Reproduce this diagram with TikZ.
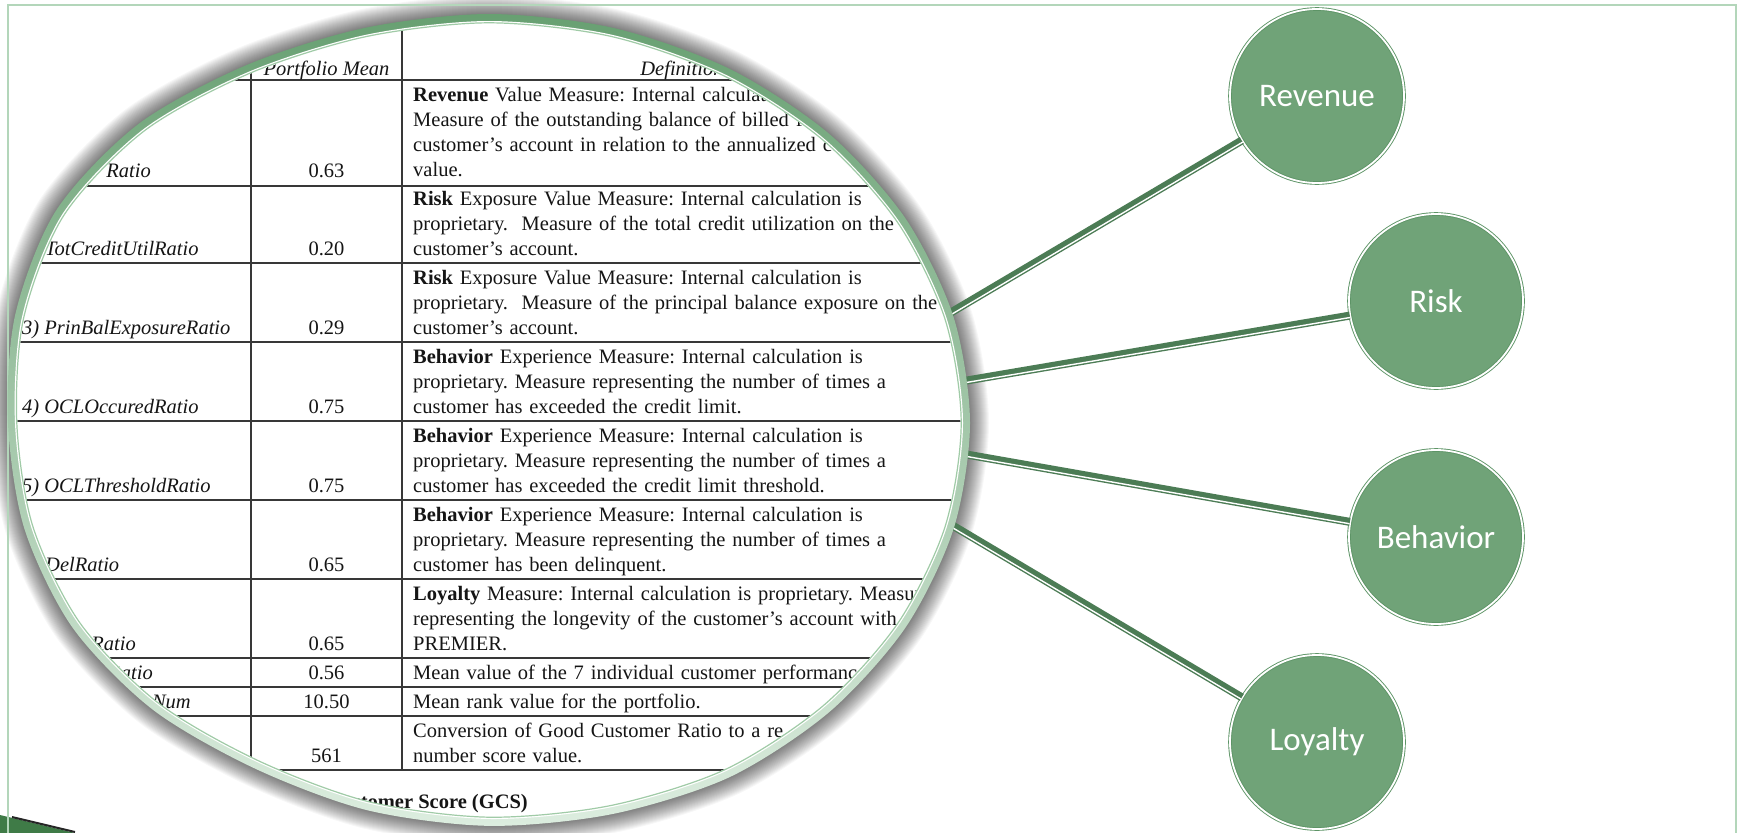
\documentclass[tikz,border=0pt]{standalone}
\usepackage{fontspec}
\setmainfont{Liberation Serif}
\newfontfamily\circfont{Carlito}
\usetikzlibrary{calc}
\definecolor{framegreen}{HTML}{B3D6BA}
\definecolor{circgreen}{HTML}{70A378}
\definecolor{circedge}{HTML}{5D9466}
\definecolor{conngreen}{HTML}{4C7C55}
\definecolor{ringtop}{HTML}{68A072}
\definecolor{ringbot}{HTML}{DCEDDF}
\definecolor{ringline}{HTML}{A0CBA7}
\definecolor{decogreen}{HTML}{3F7B47}
\definecolor{gridgray}{HTML}{383838}
\definecolor{inkblack}{HTML}{151515}
\newcommand\lenscurve{plot[smooth cycle] coordinates {
 (1,0) (0.9659,-0.2588) (0.8660,-0.5) (0.7071,-0.7071) (0.5,-0.8660) (0.2588,-0.9659)
 (0,-1) (-0.2588,-0.9659) (-0.505,-0.8747) (-0.7300,-0.7300) (-0.9000,-0.5196) (-0.9852,-0.2640)
 (-1,0) (-0.9659,0.2588) (-0.8660,0.5) (-0.7000,0.7000) (-0.4875,0.8444) (-0.2536,0.9466)
 (0,0.985) (0.2562,0.9562) (0.5,0.8660) (0.7071,0.7071) (0.8660,0.5) (0.9659,0.2588)}}
\tikzset{
  lens/.style 2 args={shift={(489,423)}, xscale=#1, yscale=#2},
  topic/.style={circle, fill=circgreen, draw=circedge, double=white, double distance=1.8pt,
    line width=0.9pt, minimum size=174pt, inner sep=0pt, text=white,
    font=\circfont\fontsize{33}{39}\selectfont},
  conn/.style={draw=conngreen, line width=8pt},
  connwhite/.style={draw=white, line width=1.4pt},
  tabline/.style={draw=gridgray, line width=1.3pt},
  cell/.style={anchor=north west, inner sep=0pt, align=left, text width=700pt,
    font=\fontsize{20.5}{25}\selectfont, text=inkblack},
  num/.style={anchor=base, inner sep=0pt, font=\fontsize{20.5}{25}\selectfont, text=inkblack},
  labw/.style={anchor=base west, inner sep=0pt, font=\fontsize{20.5}{25}\selectfont\itshape, text=inkblack},
  labe/.style={anchor=base east, inner sep=0pt, font=\fontsize{20.5}{25}\selectfont\itshape, text=inkblack},
  hdr/.style={anchor=base, inner sep=0pt, font=\fontsize{20.5}{25}\selectfont\itshape, text=inkblack},
}
\begin{document}
\frenchspacing
\begin{tikzpicture}[x=1pt,y=-1pt]
\useasboundingbox (0,0) rectangle (1741,833);
\fill[white] (0,0) rectangle (1741,833);

% bottom-left decoration
\fill[decogreen] (0,815) -- (75,833) -- (0,833) -- cycle;
\draw[black!85, line width=2pt] (12,817) -- (75,832);

% lens shadow
\foreach \d in {1,...,20} {
  \fill[black, opacity=0.032, lens={480+\d}{408+\d}] \lenscurve;
}

% frame
\draw[framegreen, line width=2.2pt] (8,833) -- (8,5) -- (1736,5) -- (1736,833);

% topic circles
\node[topic] (rev)  at (1317,96)  {Revenue};
\node[topic] (risk) at (1436,301) {Risk};
\node[topic] (beh)  at (1436,537) {Behavior};
\node[topic] (loy)  at (1317,742) {Loyalty};

% connector start points on the lens rim
\coordinate (lrev)  at (945,316);
\coordinate (lrisk) at (958,382);
\coordinate (lbeh)  at (958,453);
\coordinate (lloy)  at (945,521);

\draw[conn] (lrev) -- (rev);
\draw[conn] (lrisk) -- (risk);
\draw[conn] (lbeh) -- (beh);
\draw[conn] (lloy) -- (loy);
\draw[connwhite, transform canvas={shift={(0.98,1.63)}}] (lrev) -- (rev);
\draw[connwhite, transform canvas={shift={(0.32,1.87)}}] (lrisk) -- (risk);
\draw[connwhite, transform canvas={shift={(-0.33,1.87)}}] (lbeh) -- (beh);
\draw[connwhite, transform canvas={shift={(-0.97,1.63)}}] (lloy) -- (loy);

% lens ring and interior
\shade[top color=ringtop, bottom color=ringbot, lens={481}{409}] \lenscurve;
\fill[white, lens={474}{402}] \lenscurve;

\begin{scope}
\clip[lens={471.5}{399.5}] \lenscurve;
% table rules
\foreach \yy in {80,186,263,342,421,500,579,658,687,716,770}
  \draw[tabline] (0,\yy) -- (990,\yy);
\draw[tabline] (251,20) -- (251,770);
\draw[tabline] (402,20) -- (402,770);
% header
\node[hdr] (hpm) at (326.5,75) {Portfolio Mean};
\node[hdr] (hdef) at (682,75) {Definition};
% definitions
\node[cell] (d1) at (413,84) {\strut\textbf{Revenue} Value Measure: Internal calculation\\Measure of the outstanding balance of billed fe\\customer’s account in relation to the annualized co\\value.};
\node[cell] (d2) at (413,188) {\strut\textbf{Risk} Exposure Value Measure: Internal calculation is\\proprietary.\ \ Measure of the total credit utilization on the\\customer’s account.};
\node[cell] (d3) at (413,267) {\strut\textbf{Risk} Exposure Value Measure: Internal calculation is\\proprietary.\ \ Measure of the principal balance exposure on the\\customer’s account.};
\node[cell] (d4) at (413,346) {\strut\textbf{Behavior} Experience Measure: Internal calculation is\\proprietary. Measure representing the number of times a\\customer has exceeded the credit limit.};
\node[cell] (d5) at (413,425) {\strut\textbf{Behavior} Experience Measure: Internal calculation is\\proprietary. Measure representing the number of times a\\customer has exceeded the credit limit threshold.};
\node[cell] (d6) at (413,504) {\strut\textbf{Behavior} Experience Measure: Internal calculation is\\proprietary. Measure representing the number of times a\\customer has been delinquent.};
\node[cell] (d7) at (413,583) {\strut\textbf{Loyalty} Measure: Internal calculation is proprietary. Measure\\representing the longevity of the customer’s account with\\PREMIER.};
\node[cell] (d8) at (413,662) {\strut Mean value of the 7 individual customer performance};
\node[cell] (d9) at (413,691) {\strut Mean rank value for the portfolio.};
\node[cell] (d10) at (413,720) {\strut Conversion of Good Customer Ratio to a re\\number score value.};
% portfolio means
\node[num] (n1) at (326.5,177.5) {0.63};
\node[num] (n2) at (326.5,255.5) {0.20};
\node[num] (n3) at (326.5,334.5) {0.29};
\node[num] (n4) at (326.5,413.5) {0.75};
\node[num] (n5) at (326.5,492.5) {0.75};
\node[num] (n6) at (326.5,571.5) {0.65};
\node[num] (n7) at (326.5,650.5) {0.65};
\node[num] (n8) at (326.5,679.5) {0.56};
\node[num] (n9) at (326.5,708.5) {10.50};
\node[num] (n10) at (326.5,762.5) {561};
% measure names
\node[labe] (l1) at (151,177.5) {Ratio};
\node[labw] (l2) at (45,255.5) {TotCreditUtilRatio};
\node[labw] (l3) at (22,334.5) {3) PrinBalExposureRatio};
\node[labw] (l4) at (22,413.5) {4) OCLOccuredRatio};
\node[labw] (l5) at (22,492.5) {5) OCLThresholdRatio};
\node[labw] (l6) at (45,571.5) {DelRatio};
\node[labe] (l7) at (136,650.5) {Ratio};
\node[labe] (l8) at (153,679.5) {Ratio};
\node[labe] (l9) at (191,708.5) {Num};
% caption
\node[anchor=base east, inner sep=0pt, font=\fontsize{20.5}{25}\selectfont\bfseries, text=inkblack] (cap) at (528,808) {Customer Score (GCS)};
\end{scope}

\draw[ringline, line width=1.2pt, lens={472.2}{400.2}] \lenscurve;
\end{tikzpicture}
\end{document}
